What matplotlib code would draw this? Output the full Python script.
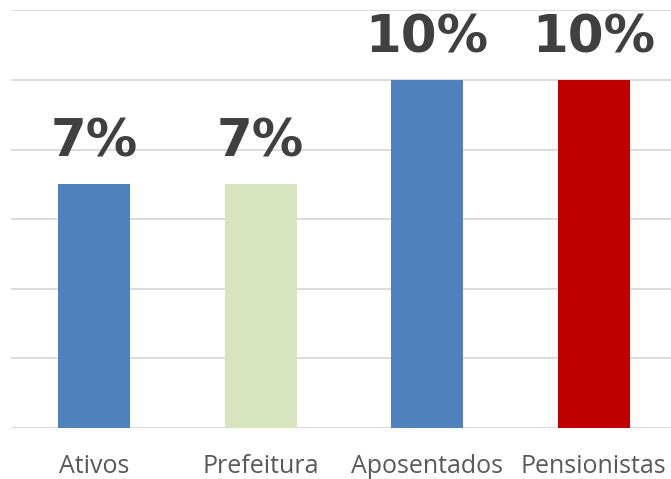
import matplotlib
matplotlib.use("Agg")
import matplotlib.pyplot as plt

categories = ["Ativos", "Prefeitura", "Aposentados", "Pensionistas"]
values = [7, 7, 10, 10]
labels = ["7%", "7%", "10%", "10%"]
colors = ["#4F81BD", "#D7E4BD", "#4F81BD", "#C00000"]

fig = plt.figure(figsize=(6.71, 4.79), dpi=100)
W, H = 671, 479
left, right, top, bottom = 11, 677, 10.5, 428
ax = fig.add_axes([left / W, 1 - bottom / H, (right - left) / W, (bottom - top) / H])

x = list(range(len(categories)))
ax.bar(x, values, width=0.435, color=colors, zorder=3)
ax.set_xlim(-0.5, len(categories) - 0.5)
ax.set_ylim(0, 12)
ax.set_yticks([0, 2, 4, 6, 8, 10, 12])
ax.yaxis.grid(True, color="#D9D9D9", linewidth=1.3, zorder=0)
ax.set_yticklabels([])
ax.tick_params(axis="y", length=0)
ax.tick_params(axis="x", length=0, pad=19)
ax.set_xticks(x)
ax.set_xticklabels(categories, fontsize=18, color="#595959", family="Open Sans")
for s in ax.spines.values():
    s.set_visible(False)

for xi, v, lab in zip(x, values, labels):
    ax.annotate(lab, (xi, v), xytext=(0, 12), textcoords="offset points",
                ha="center", va="bottom", fontsize=37, fontweight="bold",
                color="#404040", family="DejaVu Sans")

fig.savefig("out.png", dpi=100)
